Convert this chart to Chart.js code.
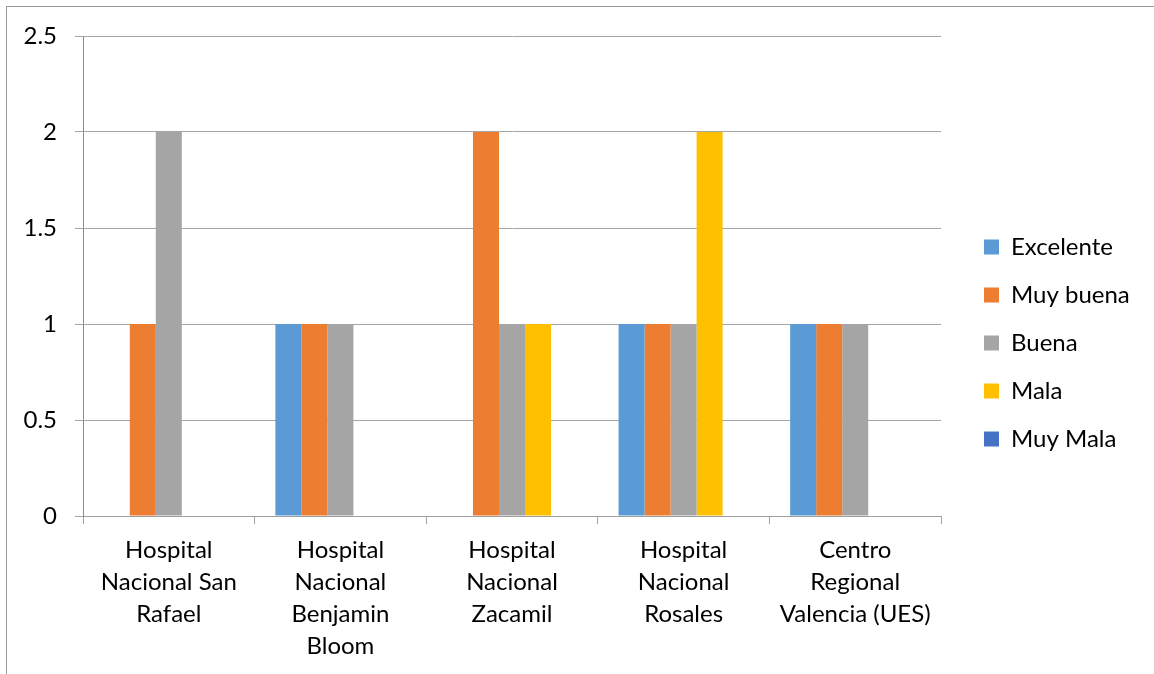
<!DOCTYPE html>
<html>
<head>
<meta charset="utf-8">
<script src="https://cdn.jsdelivr.net/npm/chart.js@4/dist/chart.umd.min.js"></script>
<style>
html,body{margin:0;padding:0;background:#fff;overflow:hidden;}
#wrap{position:relative;width:1154px;height:674px;}
#frame{position:absolute;left:6px;top:6px;right:-20px;bottom:-20px;border-top:1px solid #999;border-left:1px solid #999;pointer-events:none;}
canvas{position:absolute;left:0;top:0;}
</style>
</head>
<body>
<div id="wrap">
  <div id="frame"></div>
  <canvas id="chart" width="1154" height="674"></canvas>
</div>
<script>
const categories=[
  ['Hospital','Nacional San','Rafael'],
  ['Hospital','Nacional','Benjamin','Bloom'],
  ['Hospital','Nacional','Zacamil'],
  ['Hospital','Nacional','Rosales'],
  ['Centro','Regional','Valencia (UES)']
];
const seriesNames=['Excelente','Muy buena','Buena','Mala','Muy Mala'];
const excelente=[0,1,0,1,1];
const muyBuena=[1,1,2,1,1];
const buena=[2,1,1,1,1];
const mala=[0,0,1,2,0];
const muyMala=[0,0,0,0,0];
const yTickLabels=['0','0.5','1','1.5','2','2.5'];
const colors=['#5b9bd5','#ed7d31','#a5a5a5','#ffc000','#4472c4'];

const FONT='Lato, "Open Sans", sans-serif';
// legend sits a bit right of the plot and a bit higher than Chart.js centres it
const legendTweak={
  id:'legendTweak',
  beforeUpdate(chart){
    const lg=chart.legend;
    if(lg&&!lg._patched){
      const fit=lg.fit;
      lg.fit=function(){fit.call(this);this.width=213;};
      lg._patched=true;
    }
  },
  afterLayout(chart){
    const lg=chart.legend;
    if(!lg)return;
    lg.left+=19;lg.right+=19;
    lg.top-=12;lg.bottom-=12;
  }
};

const values=[excelente,muyBuena,buena,mala,muyMala];
new Chart(document.getElementById('chart'),{
  type:'bar',
  data:{
    labels:categories,
    datasets:seriesNames.map((name,i)=>({label:name,data:values[i],backgroundColor:colors[i],borderWidth:0,categoryPercentage:0.758,barPercentage:1}))
  },
  options:{
    responsive:false,
    animation:false,
    devicePixelRatio:1,
    layout:{padding:{top:36,left:0,right:0,bottom:0}},
    plugins:{
      tooltip:{enabled:false},
      legend:{
        position:'right',
        labels:{boxWidth:15,boxHeight:15,padding:24,color:'#000',font:{family:FONT,size:24}}
      }
    },
    scales:{
      x:{
        grid:{display:true,drawOnChartArea:false,drawTicks:true,tickLength:8,color:'#a0a0a0',offset:true},
        border:{color:'#a0a0a0'},
        ticks:{color:'#000',padding:10,maxRotation:0,autoSkip:false,font:{family:FONT,size:24,lineHeight:'32px'}},
        afterFit:s=>{s.height=158;}
      },
      y:{
        min:0,max:2.5,
        grid:{color:'#a6a6a6',tickLength:8},
        border:{color:'#8c8c8c'},
        ticks:{stepSize:0.5,color:'#000',padding:18,font:{family:FONT,size:24},callback:(v,i)=>yTickLabels[i]},
        afterFit:s=>{s.width=83;}
      }
    }
  },
  plugins:[legendTweak]
});
</script>
</body>
</html>
